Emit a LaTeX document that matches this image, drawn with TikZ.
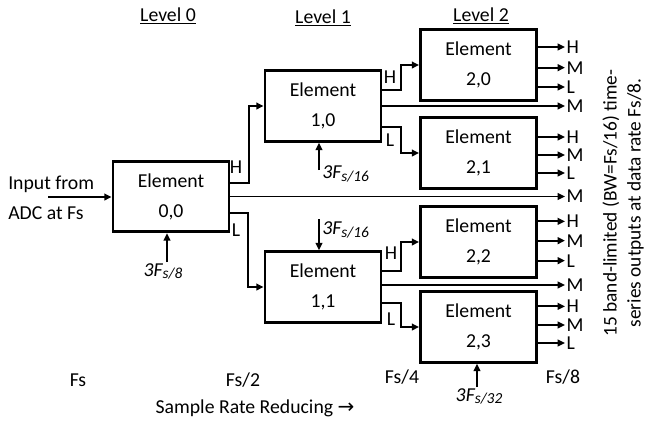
\documentclass[tikz,border=0pt]{standalone}
\usepackage{fontspec}
\setmainfont{Carlito}
\newfontfamily\symfont{DejaVu Sans}
\usetikzlibrary{arrows.meta,calc}

\newcommand{\freqlabel}[1]{\textit{3F\raisebox{-0.3ex}{\fontsize{11.5}{11.5}\selectfont s/#1}}}

\begin{document}
\begin{tikzpicture}[x=0.75pt,y=-0.75pt,
  font=\fontsize{14.8}{22.5}\selectfont,
  element/.style={draw,line width=2.1pt,minimum width=87pt,minimum height=53pt,
    align=center,inner sep=0pt},
  conn/.style={line width=1.4pt,-{Triangle[length=5.5pt,width=5pt]}},
  outlbl/.style={anchor=west,inner sep=0.5pt},
  sidelbl/.style={inner sep=0pt}]

\useasboundingbox (0,0) rectangle (645,422);

% level headings
\node (lv0) at (168,16) {\underline{Level 0}};
\node (lv1) at (323,18) {\underline{Level 1}};
\node (lv2) at (481,16) {\underline{Level 2}};

% filter elements
\node[element] (e00) at (171,196.5) {Element\\0,0};
\node[element] (e10) at (323,106)   {Element\\1,0};
\node[element] (e11) at (323,287)   {Element\\1,1};
\node[element] (e20) at (478.5,65)  {Element\\2,0};
\node[element] (e21) at (478.5,153) {Element\\2,1};
\node[element] (e22) at (478.5,242) {Element\\2,2};
\node[element] (e23) at (478.5,327) {Element\\2,3};

% input
\node[align=left,anchor=west,inner sep=0pt] (inp) at (8,198) {Input from\\ADC at Fs};
\coordinate (inend) at (48,197);
\draw[conn] (inend) -- (inend -| e00.west);

% column where all outputs end
\coordinate (outx) at (565,0);

% level 0 outputs
\draw[conn] ([yshift=10pt]e00.east) -- ++(19,0) |- (e10.west);
\node[sidelbl] (h00) at (236,167) {H};
\draw[conn] (e00.east) -- (e00.east -| outx) node[outlbl] (m00) {M};
\draw[conn] ([yshift=-12.4pt]e00.east) -- ++(18,0) |- (e11.west);
\node[sidelbl] (l00) at (236,230) {L};

% level 1 outputs
\draw[conn] ([yshift=12pt]e10.east) -- ++(19,0) |- (e20.west);
\node[sidelbl] (h10) at (390,77) {H};
\draw[conn] (e10.east) -- (e10.east -| outx) node[outlbl] (m10) {M};
\draw[conn] ([yshift=-15.5pt]e10.east) -- ++(19,0) |- (e21.west);
\node[sidelbl] (l10) at (390,140) {L};

\draw[conn] ([yshift=12pt]e11.east) -- ++(19,0) |- (e22.west);
\node[sidelbl] (h11) at (391,253) {H};
\draw[conn] ([yshift=1.5pt]e11.east) -- ([yshift=1.5pt]e11.east -| outx) node[outlbl] (m11) {M};
\draw[conn] ([yshift=-12pt]e11.east) -- ++(19,0) |- (e23.west);
\node[sidelbl] (l11) at (391,319) {L};

% level 2 outputs
\foreach \e/\dh/\dm/\dl in {e20/13.5/-2/-16.5, e21/12/-1.5/-15, e22/15.5/1/-14, e23/15.5/1.5/-12}{
  \draw[conn] ([yshift=\dh pt]\e.east) -- ([yshift=\dh pt]\e.east -| outx) node[outlbl] {H};
  \draw[conn] ([yshift=\dm pt]\e.east) -- ([yshift=\dm pt]\e.east -| outx) node[outlbl] {M};
  \draw[conn] ([yshift=\dl pt]\e.east) -- ([yshift=\dl pt]\e.east -| outx) node[outlbl] {L};
}

% centre frequencies
\coordinate (f00) at (167,262);
\draw[conn] (f00) -- (f00 |- e00.south);
\node[anchor=north,inner sep=0pt] (q00) at (163,263) {\freqlabel{8}};

\coordinate (f10) at (319,170);
\draw[conn] (f10) -- (f10 |- e10.south);
\node[anchor=west,inner sep=0pt] (q10) at (322,174) {\freqlabel{16}};

\coordinate (f11) at (319,219);
\draw[conn] (f11) -- (f11 |- e11.north);
\node[anchor=west,inner sep=0pt] (q11) at (322,230) {\freqlabel{16}};

\coordinate (f23) at (477,387);
\draw[conn] (f23) -- (f23 |- e23.south);
\node[anchor=north,inner sep=0pt] (q23) at (479,388) {\freqlabel{32}};

% sample rates
\node (r0) at (78,380) {Fs};
\node (r1) at (243,380) {Fs/2};
\node (r2) at (402,377) {Fs/4};
\node (r3) at (563,377) {Fs/8};
\node (srr) at (255,408) {Sample Rate Reducing {\symfont\fontsize{15}{15}\selectfont →}};

% note on the outputs
\node[rotate=90,align=center,font=\fontsize{14.5}{18}\selectfont,inner sep=0pt] (note) at (623,203)
  {15 band-limited (BW=Fs/16) time-\\series outputs at data rate Fs/8.};

\end{tikzpicture}
\end{document}
